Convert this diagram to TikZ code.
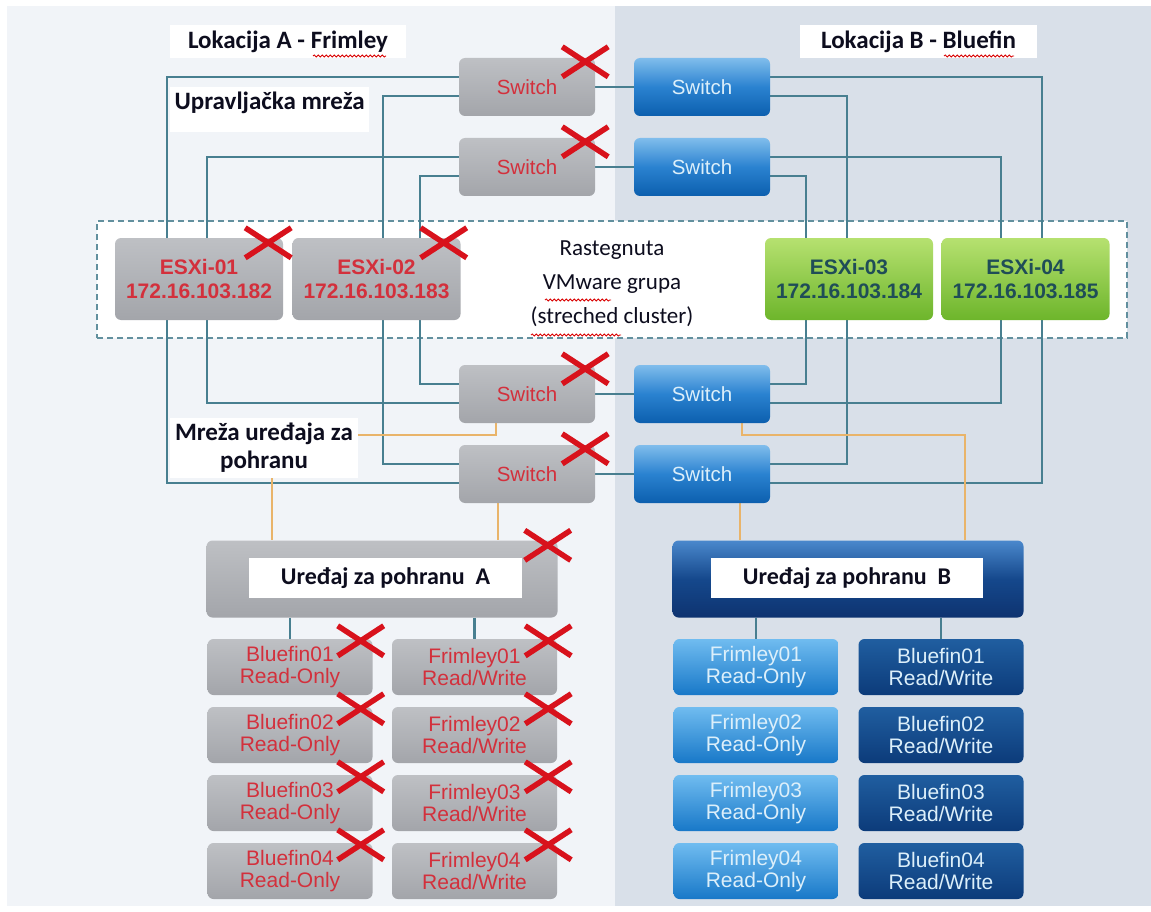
\documentclass[tikz,border=0pt]{standalone}
\usepackage{fontspec}
\setmainfont{Carlito}
\newfontfamily\arialf{Liberation Sans}
\usetikzlibrary{calc,decorations.pathmorphing}
\pgfdeclarelayer{bg}\pgfdeclarelayer{lines}
\pgfsetlayers{bg,lines,main}
\definecolor{bgl}{HTML}{F1F4F8}
\definecolor{bgr}{HTML}{D9E0E9}
\definecolor{netc}{HTML}{487F90}
\definecolor{orng}{HTML}{E9B46A}
\definecolor{gtop}{HTML}{BEC0C4}
\definecolor{gbot}{HTML}{A3A5AA}
\definecolor{rtxt}{HTML}{D3303C}
\definecolor{xred}{HTML}{D8121C}
\definecolor{btop}{HTML}{80BDEC}
\definecolor{bmid}{HTML}{2A82D0}
\definecolor{bbot}{HTML}{0C5FAE}
\definecolor{btxt}{HTML}{DCEFFA}
\definecolor{grtop}{HTML}{B6E170}
\definecolor{grbot}{HTML}{6DB52B}
\definecolor{grtxt}{HTML}{1F4D57}
\definecolor{ntop}{HTML}{4A88CC}
\definecolor{nmid}{HTML}{15488C}
\definecolor{nbot}{HTML}{0E3370}
\definecolor{ltop}{HTML}{70BCF0}
\definecolor{lbot}{HTML}{1878C8}
\definecolor{dtop}{HTML}{205EA0}
\definecolor{dbot}{HTML}{0C3B7A}
\definecolor{dashc}{HTML}{62909E}
\definecolor{lbl}{HTML}{0D0D1E}
\tikzset{
  box/.style={rounded corners=6pt, inner sep=0pt, align=center},
  graybox/.style={box, top color=gtop, bottom color=gbot, text=rtxt},
  bluebox/.style={box, top color=btop, bottom color=bbot, middle color=bmid, text=btxt},
  greenbox/.style={box, top color=grtop, bottom color=grbot, text=grtxt},
  navybox/.style={box, top color=ntop, bottom color=nbot, middle color=nmid},
  lightlun/.style={box, top color=ltop, bottom color=lbot, text=btxt},
  darklun/.style={box, top color=dtop, bottom color=dbot, text=btxt},
  swbox/.style={minimum width=136pt, minimum height=58pt, font=\arialf\fontsize{20.5}{24}\selectfont},
  esxbox/.style={minimum width=168pt, minimum height=82pt, font=\arialf\bfseries\fontsize{21}{24}\selectfont},
  lunbox/.style={minimum width=165pt, minimum height=56pt, font=\arialf\fontsize{21}{22}\selectfont},
  stbox/.style={minimum width=351pt, minimum height=77pt},
  wlabel/.style={fill=white, inner sep=0pt, align=center, text=lbl, font=\bfseries\fontsize{25}{28}\selectfont},
  netline/.style={draw=netc, line width=2.2pt},
  storline/.style={draw=orng, line width=2.4pt},
  xmark/.style={draw=xred, line width=5.5pt},
  wavy/.style={draw=red!85!black, line width=0.8pt, decorate, decoration={snake, amplitude=1.1pt, segment length=4pt}}
}
\newcommand\xmk[3]{%
  \draw[xmark] ([shift={(#2,#3)}]#1.north east) ++(-23,-15) -- ++(46,30);
  \draw[xmark] ([shift={(#2,#3)}]#1.north east) ++(-23,15) -- ++(46,-30);}
\begin{document}
\begin{tikzpicture}[x=1pt,y=-1pt]
\useasboundingbox (0,0) rectangle (1151,912);
\begin{pgfonlayer}{bg}
  \fill[white] (0,0) rectangle (1151,912);
  \fill[bgl] (7,6) rectangle (615,906);
  \fill[bgr] (615,6) rectangle (1151,906);
  \node[draw=dashc, dash pattern=on 6pt off 4pt, line width=2.3pt, fill=white,
        minimum width=1030pt, minimum height=117pt, inner sep=0pt] (cluster) at (612,279.5) {};
\end{pgfonlayer}

% switches
\node[graybox, swbox] (gsw1) at (527,87) {Switch};
\node[graybox, swbox] (gsw2) at (527,167) {Switch};
\node[graybox, swbox] (gsw3) at (527,394) {Switch};
\node[graybox, swbox] (gsw4) at (527,474) {Switch};
\node[bluebox, swbox] (bsw1) at (702,87) {Switch};
\node[bluebox, swbox] (bsw2) at (702,167) {Switch};
\node[bluebox, swbox] (bsw3) at (702,394) {Switch};
\node[bluebox, swbox] (bsw4) at (702,474) {Switch};

% hosts
\node[graybox, esxbox] (esx1) at (199,279) {ESXi-01\\172.16.103.182};
\node[graybox, esxbox] (esx2) at (376.5,279) {ESXi-02\\172.16.103.183};
\node[greenbox, esxbox] (esx3) at (849,279) {ESXi-03\\172.16.103.184};
\node[greenbox, esxbox] (esx4) at (1025.5,279) {ESXi-04\\172.16.103.185};
\node[align=center, text=lbl, font=\fontsize{23}{34}\selectfont] (ctxt) at (612,284) {Rastegnuta\\VMware grupa\\(streched cluster)};

% storage
\node[graybox, stbox] (stA) at (382,579) {};
\node[navybox, stbox] (stB) at (848,579) {};
\node[wlabel, minimum width=273pt, minimum height=40pt, font=\bfseries\fontsize{24}{26}\selectfont] (stAl) at (385.5,578) {Uređaj za pohranu~~A};
\node[wlabel, minimum width=272pt, minimum height=40pt, font=\bfseries\fontsize{24}{26}\selectfont] (stBl) at (847,578) {Uređaj za pohranu~~B};

% LUNs
\foreach \r/\y in {1/667,2/735,3/803,4/871}{
  \node[graybox, lunbox] (la\r) at (290,\y) {Bluefin0\r\\Read-Only};
  \node[graybox, lunbox] (lb\r) at (474.5,\y) {Frimley0\r\\Read/Write};
  \node[lightlun, lunbox] (lc\r) at (756,\y) {Frimley0\r\\Read-Only};
  \node[darklun, lunbox] (ld\r) at (941,\y) {Bluefin0\r\\Read/Write};
}

% labels
\node[wlabel, minimum width=236pt, minimum height=33pt] (locA) at (288,41.5) {Lokacija A - Frimley};
\node[wlabel, minimum width=237pt, minimum height=33pt] (locB) at (918.5,41.5) {Lokacija B - Bluefin};
\node[wlabel, anchor=north west, minimum width=199pt, text height=18pt, text depth=19pt, inner ysep=4pt] (mgmt) at (170,87) {Upravljačka mreža};
\node[wlabel, minimum width=188pt, minimum height=60pt] (stnet) at (264,448) {Mreža uređaja za\\pohranu};

% connectors
\begin{pgfonlayer}{lines}
  \draw[netline] ([yshift=10pt]gsw1.west) -| ([xshift=52pt]esx1.west) |- ([yshift=-9pt]gsw4.west);
  \draw[netline] ([yshift=-9pt]gsw1.west) -| ([xshift=91pt]esx2.west) |- ([yshift=10pt]gsw4.west);
  \draw[netline] ([yshift=10pt]gsw2.west) -| ([xshift=92pt]esx1.west) |- ([yshift=-9pt]gsw3.west);
  \draw[netline] ([yshift=-9pt]gsw2.west) -| ([xshift=128pt]esx2.west) |- ([yshift=10pt]gsw3.west);
  \draw[netline] ([yshift=10pt]bsw1.east) -| ([xshift=101pt]esx4.west) |- ([yshift=-9pt]bsw4.east);
  \draw[netline] ([yshift=-9pt]bsw1.east) -| ([xshift=82pt]esx3.west) |- ([yshift=10pt]bsw4.east);
  \draw[netline] ([yshift=10pt]bsw2.east) -| ([xshift=60pt]esx4.west) |- ([yshift=-9pt]bsw3.east);
  \draw[netline] ([yshift=-9pt]bsw2.east) -| ([xshift=41pt]esx3.west) |- ([yshift=10pt]bsw3.east);
  \foreach \i in {1,2,3,4}{\draw[netline] (gsw\i.east) -- (bsw\i.west);}
  \draw[netline] (la1.north |- stA.south) -- (la1.north);
  \draw[netline] (lb1.north |- stA.south) -- (lb1.north);
  \draw[netline] (lc1.north |- stB.south) -- (lc1.north);
  \draw[netline] (ld1.north |- stB.south) -- (ld1.north);
  \coordinate (oA) at (272,435);
  \coordinate (oB) at (965,435);
  \draw[storline] ([xshift=-31pt]gsw3.south) |- (oA) -- (oA |- stA.north);
  \draw[storline] ([xshift=-29pt]gsw4.south) coordinate (g4o) -- (g4o |- stA.north);
  \draw[storline] ([xshift=40pt]bsw3.south) |- (oB) -- (oB |- stB.north);
  \draw[storline] ([xshift=38pt]bsw4.south) coordinate (b4o) -- (b4o |- stB.north);
\end{pgfonlayer}

% failure marks
\xmk{gsw1}{-10}{4}
\xmk{gsw2}{-10}{4}
\xmk{gsw3}{-10}{4}
\xmk{gsw4}{-10}{4}
\xmk{esx1}{-15}{5}
\xmk{esx2}{-17}{5}
\xmk{stA}{-10}{5}
\foreach \r in {1,2,3,4}{\xmk{la\r}{-12}{2}\xmk{lb\r}{-9}{2}}

% spell-check underlines
\draw[wavy] (313,56) -- (386,56);
\draw[wavy] (944,56) -- (1014,56);
\draw[wavy] (545,300) -- (611,300);
\draw[wavy] (531,335) -- (621,335);
\end{tikzpicture}
\end{document}
